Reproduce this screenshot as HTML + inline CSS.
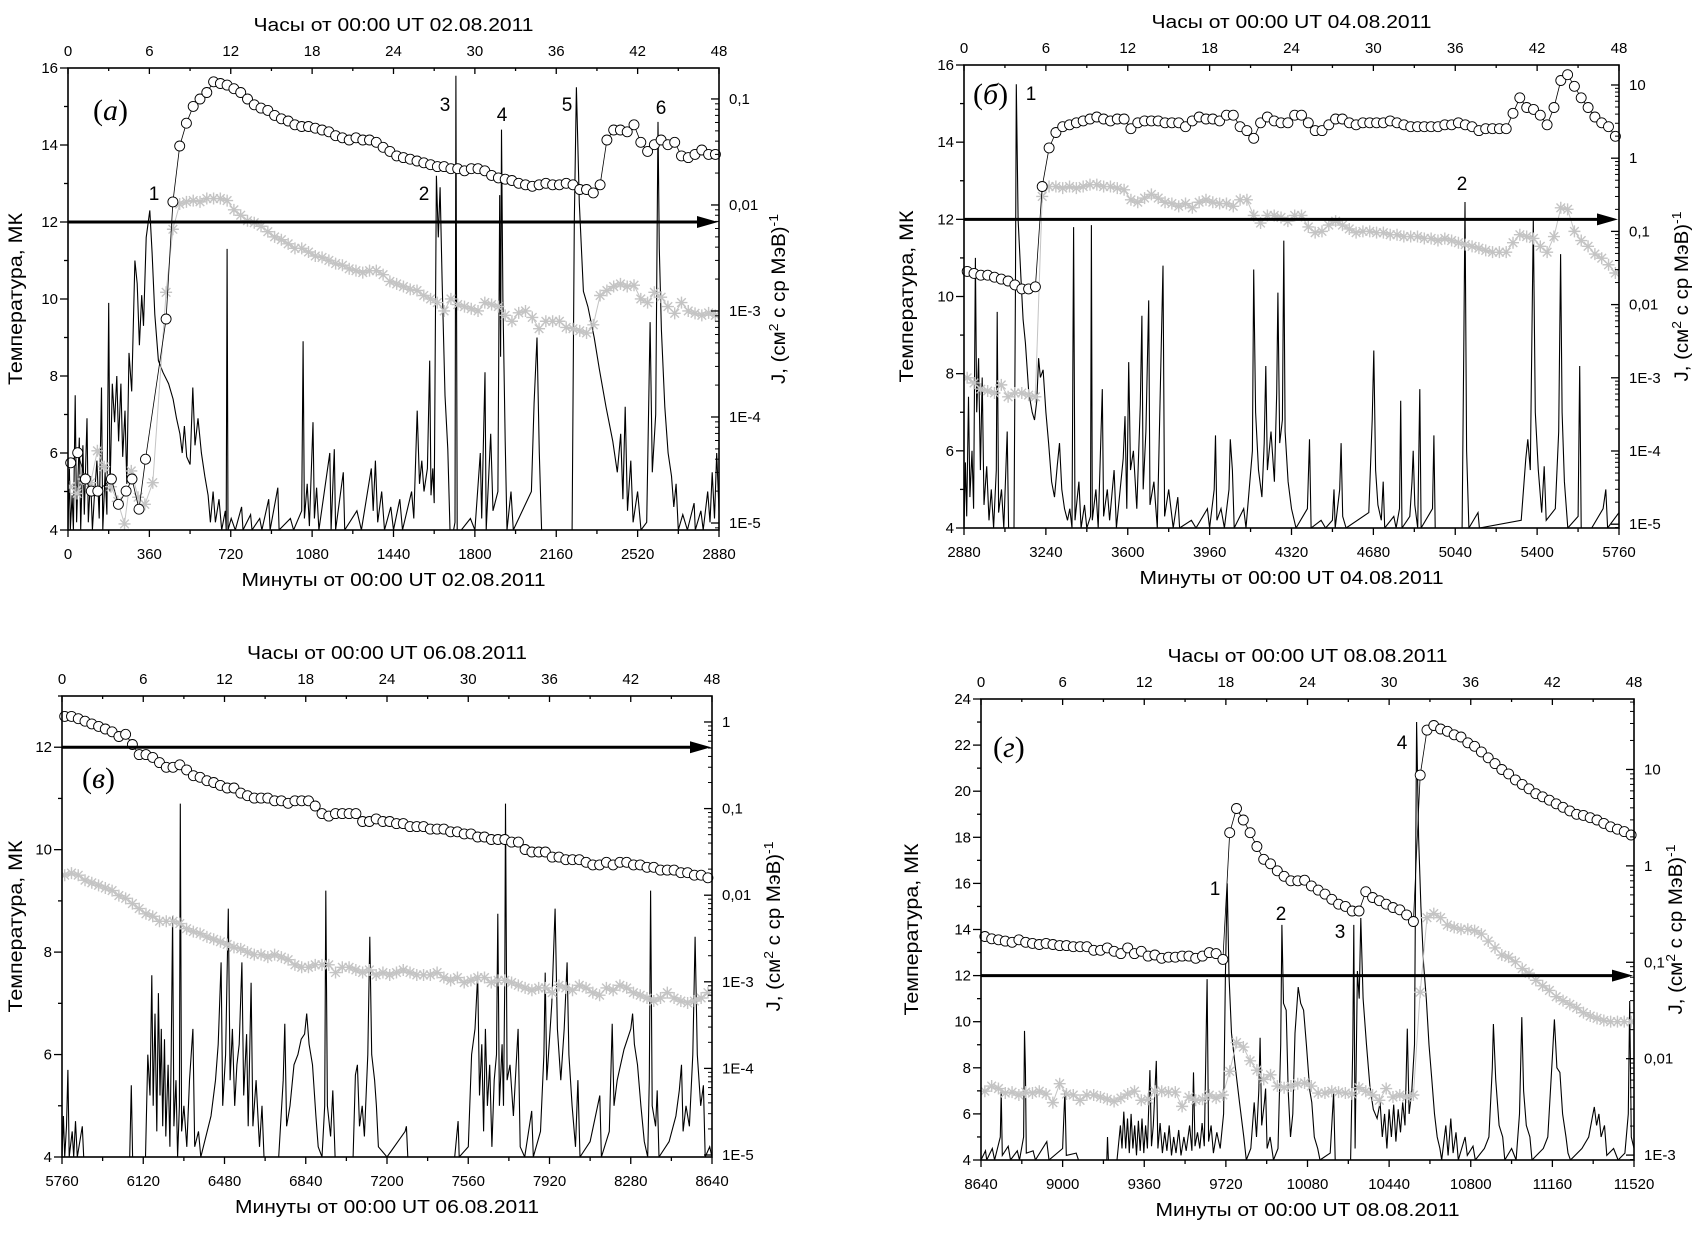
<!DOCTYPE html>
<html><head><meta charset="utf-8"><title>Temperature and flux panels</title>
<style>
html,body{margin:0;padding:0;background:#fff;}
svg text{font-family:"Liberation Sans",sans-serif;fill:#000;}
</style></head>
<body>
<svg id="fig" xmlns="http://www.w3.org/2000/svg" width="1702" height="1229" viewBox="0 0 1702 1229"></svg>
<script>
// ---------- DATA (minutes, MK, flux) ----------
const aEarlyCircT=[12,43,77,103,132,192,223,257,283,314,343];
const aEarlyCircJ=[3.7e-5,4.6e-5,2.6e-5,2.0e-5,2.0e-5,2.6e-5,1.5e-5,2.0e-5,2.6e-5,1.35e-5,4e-5];
const aEarlyStarT=[10,40,70,100,130,160,190,220,250,280,310,340,375];
const aEarlyStarJ=[2.2e-5,1.9e-5,2.6e-5,2.4e-5,4.8e-5,3.4e-5,2.2e-5,1.6e-5,9.8e-6,3.1e-5,1.75e-5,1.5e-5,2.4e-5];
const aStart=434, bStart=2894, cStart=5772, dStart=8657;
const aCirc=[8.4e-4,0.0107,0.036,0.059,0.085,0.10,0.115,0.145,0.14,0.135,
0.125,0.115,0.10,0.088,0.082,0.078,0.07,0.065,0.062,0.057,
0.055,0.055,0.053,0.051,0.049,0.045,0.043,0.041,0.043,0.041,0.041,0.039,
0.035,0.032,0.029,0.028,0.027,0.026,0.025,0.024,0.023,0.023,0.022,0.022,0.021,0.022,0.022,0.021,
0.019,0.018,0.0175,0.017,0.016,0.0155,0.015,0.0155,0.016,0.0155,0.0155,0.016,0.0155,0.014,0.014,0.013,
0.0155,0.041,0.051,0.051,0.049,0.057,0.039,0.032,0.037,0.041,0.037,0.039,0.029,0.028,0.03,0.033,0.03,0.03];
const aStar=[0.0015,0.0059,0.0102,0.0107,0.011,0.0107,0.0115,0.0115,0.0115,0.011,
0.009,0.008,0.0071,0.0068,0.0063,0.0056,0.005,0.0047,0.0043,0.0039,
0.0039,0.0036,0.0033,0.0032,0.003,0.0028,0.0027,0.0025,0.0024,0.0023,0.0024,0.0024,
0.0022,0.0019,0.0018,0.0017,0.0016,0.00156,0.0014,0.0013,0.0012,0.001,0.0013,0.00115,0.0011,0.00105,0.001,0.0012,
0.00115,0.0011,0.00091,0.0008,0.00096,0.001,0.00087,0.00068,0.0008,0.0008,0.0008,0.0007,0.00068,0.00065,0.00062,0.00074,
0.0014,0.00156,0.0017,0.0018,0.0017,0.00175,0.0013,0.0012,0.0015,0.00135,0.0011,0.00095,0.0012,0.001,0.00095,0.00091,0.00096,0.00091];
const bCirc=[0.0284,0.0267,0.0252,0.0252,0.0237,0.0223,0.021,0.0186,0.0164,0.0164,0.0175,
0.41,1.38,2.24,2.69,2.86,3.04,3.23,3.43,3.65,3.43,3.23,3.43,3.43,2.53,3.04,3.23,3.23,3.23,3.04,3.04,3.04,2.69,3.23,3.65,3.43,3.43,3.23,3.87,3.87,2.69,2.38,1.87,
3.04,3.65,3.23,3.04,3.04,3.87,3.87,3.04,2.38,2.38,2.86,3.43,3.43,3.04,2.86,3.04,3.04,3.04,3.04,3.23,3.04,2.86,2.69,2.69,2.69,2.69,2.69,2.86,2.86,3.04,2.86,2.69,
2.38,2.53,2.53,2.53,2.53,4.11,6.68,4.93,4.64,3.87,2.86,4.93,11.5,13.8,9.6,6.68,4.93,3.65,3.04,2.69,1.99];
const bStar=[0.001,8.5e-4,7e-4,6.6e-4,6.2e-4,8e-4,5.5e-4,6.2e-4,6.2e-4,5.8e-4,5.5e-4,
0.30,0.41,0.41,0.39,0.41,0.39,0.41,0.435,0.435,0.41,0.41,0.39,0.37,
0.27,0.25,0.285,0.32,0.285,0.25,0.24,0.22,0.24,0.21,0.25,0.27,0.25,0.24,0.24,0.22,0.27,0.27,
0.165,0.13,0.165,0.165,0.155,0.138,0.165,0.165,0.115,0.096,0.10,0.122,0.138,0.122,0.108,
0.096,0.10,0.10,0.096,0.096,0.09,0.09,0.085,0.085,0.085,0.08,0.08,0.075,0.08,0.075,0.07,0.066,0.0625,0.059,0.055,
0.052,0.052,0.052,0.07,0.09,0.085,0.08,0.0625,0.052,0.085,0.21,0.2,0.10,0.075,0.0625,0.049,0.043,0.035,0.027];
const cCirc=[1.16,1.16,1.09,1.02,0.95,0.89,0.83,0.77,0.68,0.72,
0.55,0.42,0.42,0.39,0.34,0.30,0.30,0.32,0.28,0.24,
0.23,0.21,0.20,0.185,0.173,0.173,0.151,0.141,0.132,0.132,
0.132,0.123,0.123,0.115,0.123,0.123,0.123,0.107,0.0875,0.082,
0.0875,0.0875,0.0875,0.0875,0.071,0.071,0.076,0.071,0.071,0.067,
0.067,0.062,0.062,0.062,0.058,0.058,0.058,0.054,0.054,0.051,
0.051,0.047,0.047,0.044,0.044,0.044,0.041,0.041,0.0337,0.0315,
0.0315,0.0315,0.0275,0.0275,0.0257,0.0257,0.0257,0.024,0.0224,0.0224,
0.024,0.0224,0.024,0.024,0.0224,0.0224,0.021,0.021,0.0195,0.0195,
0.0195,0.0182,0.0182,0.017,0.017,0.0159];
const cStar=[0.017,0.018,0.017,0.0149,0.0139,0.013,0.0121,0.0113,0.0099,0.0092,
0.008,0.007,0.0061,0.0057,0.005,0.005,0.005,0.0047,0.0041,0.0038,
0.0036,0.0033,0.0031,0.0029,0.0027,0.0025,0.0024,0.0022,0.00206,0.00206,
0.00193,0.00206,0.00193,0.0018,0.00157,0.00147,0.00147,0.00157,0.00157,0.00157,
0.00128,0.00147,0.00147,0.00137,0.00128,0.00137,0.0012,0.00128,0.0012,0.00128,
0.00137,0.00128,0.0012,0.0012,0.0012,0.00128,0.00112,0.00104,0.00112,0.00098,
0.00104,0.00112,0.00112,0.00098,0.00104,0.00104,0.00098,0.00091,0.00085,0.0008,
0.00085,0.00085,0.00075,0.00091,0.00085,0.0008,0.00091,0.00085,0.00075,0.0007,
0.00085,0.0008,0.00091,0.00085,0.00075,0.0007,0.00065,0.0006,0.00065,0.00075,
0.00065,0.0006,0.00057,0.0006,0.00065,0.00075];
const dCirc=[0.185,0.175,0.171,0.166,0.161,0.171,0.161,0.157,0.153,0.157,
0.153,0.149,0.149,0.145,0.145,0.145,0.133,0.133,0.141,0.13,
0.123,0.141,0.123,0.13,0.116,0.119,0.11,0.113,0.113,0.116,
0.116,0.11,0.116,0.126,0.123,0.107,
2.21,3.94,2.99,2.21,1.59,1.17,1.05,0.89,0.78,0.70,
0.70,0.71,0.62,0.56,0.51,0.45,0.40,0.38,0.34,0.34,
0.54,0.47,0.435,0.40,0.37,0.35,0.31,0.265,
8.75,25.6,28.6,26.3,24.9,22.9,21.7,18.9,17.4,15.2,
13.2,11.5,10.0,9.0,7.8,7.0,6.3,5.6,5.2,4.8,
4.4,4.05,3.72,3.43,3.34,3.16,2.99,2.76,2.54,2.4,2.27,2.09];
const dStar=[0.0046,0.0052,0.0049,0.0044,0.0045,0.0042,0.0045,0.0044,0.0046,0.0043,
0.0035,0.0055,0.0043,0.0042,0.0037,0.0042,0.0042,0.004,0.0038,0.0036,
0.0039,0.0043,0.0046,0.0037,0.0038,0.0046,0.0046,0.0045,0.0045,0.0032,
0.004,0.0037,0.0038,0.0042,0.0039,0.0042,
0.0074,0.0147,0.0132,0.0095,0.0076,0.0061,0.0068,0.0052,0.005,0.0052,
0.0055,0.0056,0.0052,0.0044,0.0044,0.0046,0.0045,0.0044,0.0043,0.005,
0.0046,0.0042,0.0037,0.0049,0.004,0.0042,0.004,0.0042,
0.049,0.29,0.32,0.29,0.244,0.23,0.22,0.22,0.213,0.196,
0.166,0.141,0.119,0.113,0.101,0.086,0.077,0.065,0.057,0.051,
0.044,0.040,0.0366,0.0337,0.030,0.0277,0.0262,0.0249,0.0242,0.0242,0.0242,0.0242];
const goesA=[[0,4],[6,5.6],[10,4],[18,4.9],[24,4],[32,7.5],[38,4.2],[50,6.4],[56,4],[66,6.2],[72,4.4],[84,6.9],[90,4.2],[100,5.4],[108,4],[116,4.8],[128,5.8],[138,4.3],[148,7.7],[154,4],[164,5.5],[172,4.4],[180,9.9],[186,5],[196,7.8],[206,6.8],[216,8.0],[224,6.3],[234,7.8],[242,5.9],[252,7.1],[260,5.2],[270,8.6],[282,7.6],[296,11.0],[306,10.4],[316,8.8],[326,10.1],[334,9.3],[346,11.6],[362,12.3],[372,11.2],[384,9.6],[400,8.4],[420,8.1],[445,7.8],[465,7.4],[480,6.9],[495,6.5],[505,6.0],[515,6.7],[525,5.9],[540,5.7],[552,7.7],[562,6.2],[575,6.9],[590,6.0],[605,5.4],[620,4.9],[630,4.2],[642,5.0],[652,4.2],[668,4.8],[680,4],[696,4.5],[700,4],[704,11.3],[708,4],[722,4.3],[740,4],[768,4.6],[774,4],[808,4.4],[814,4],[848,4.3],[858,4],[888,4.8],[894,4],[928,5.1],[934,4],[984,4.3],[998,4],[1034,4.5],[1040,8.9],[1046,4.3],[1058,5.2],[1068,4.1],[1084,6.8],[1090,4.3],[1100,5.1],[1110,4],[1158,6.0],[1164,4],[1178,6.1],[1184,4],[1218,5.5],[1224,4],[1278,4.5],[1298,4],[1342,5.6],[1350,4.5],[1360,5.8],[1370,4.2],[1388,5],[1400,4],[1428,4.6],[1440,4],[1468,4.8],[1480,4],[1520,5.0],[1530,4.3],[1545,7.1],[1555,5.2],[1565,5.8],[1575,5],[1590,5.6],[1600,8.4],[1606,4.9],[1614,5.6],[1620,4.7],[1630,13.2],[1638,11.6],[1646,12.9],[1655,10.5],[1668,7.5],[1680,6.1],[1690,4],[1706,4],[1712,4.2],[1716,15.8],[1722,4],[1740,4],[1780,4.3],[1800,4],[1824,6.0],[1830,4.3],[1845,8.1],[1850,4],[1870,6.5],[1880,4.5],[1902,5],[1910,12.7],[1914,8.5],[1918,14.4],[1924,10],[1934,6.3],[1942,4],[1960,5],[1970,4],[2050,5],[2062,7.3],[2075,9.0],[2085,6],[2095,4],[2130,4],[2230,4],[2240,12],[2249,15.5],[2262,12.5],[2280,10.2],[2300,9.8],[2328,9.0],[2350,8.2],[2380,7.2],[2410,6.3],[2430,5.5],[2445,6.5],[2455,4.8],[2465,7.2],[2475,4.5],[2490,5.8],[2500,4.2],[2520,5],[2535,4],[2560,4.2],[2575,9.4],[2585,5.5],[2600,7],[2610,14.6],[2616,11.3],[2625,9.2],[2640,7.2],[2655,6],[2670,5.4],[2680,4.6],[2690,5.2],[2700,4],[2720,4.4],[2740,4],[2770,4.7],[2775,4],[2800,4.5],[2810,4],[2830,5],[2840,4.2],[2850,5.5],[2860,4.3],[2870,6],[2880,4.5]];
const goesB=[[2880,4],[2886,5.7],[2892,4.3],[2900,7.4],[2906,4.8],[2915,6.0],[2922,4.5],[2930,11.0],[2936,7.0],[2944,8.4],[2952,5.5],[2960,7.9],[2968,4.6],[2980,5.6],[2990,4.2],[3000,5.0],[3010,4],[3022,5.5],[3026,9.6],[3032,4.4],[3045,5],[3055,4],[3070,6.5],[3076,4],[3100,4],[3106,10],[3110,15.5],[3118,12],[3130,10.5],[3140,9.4],[3150,8.8],[3165,7.5],[3180,7.0],[3190,6.8],[3200,7.3],[3208,8.4],[3216,7.9],[3228,8.1],[3240,7.0],[3252,6.2],[3265,5.2],[3278,4.8],[3290,5.6],[3300,6.2],[3310,5.0],[3322,4.5],[3335,4.2],[3345,4.5],[3355,4],[3362,11.8],[3368,4.2],[3385,5.2],[3395,4],[3410,4.6],[3420,4],[3436,4.3],[3440,11.85],[3444,4.2],[3460,5],[3470,4],[3488,7.6],[3494,4.3],[3510,5],[3520,4.2],[3540,5.5],[3550,4],[3580,5.8],[3588,6.9],[3596,4.5],[3604,8.3],[3612,5.5],[3625,6.0],[3640,4.5],[3655,7.2],[3662,9.5],[3668,5.0],[3680,6.5],[3692,9.9],[3698,4.6],[3715,5.2],[3730,4],[3755,10.8],[3762,4.3],[3780,5],[3800,4],[3820,4.8],[3828,4],[3880,4.2],[3900,4],[3950,4.5],[3960,4],[3980,5.0],[3986,6.4],[3992,4.2],[4010,4.5],[4025,4],[4045,5],[4051,6.3],[4060,5.5],[4068,4],[4110,4.5],[4120,4],[4148,6.0],[4154,10.7],[4162,7.0],[4175,5.5],[4190,4.8],[4200,6.2],[4207,8.2],[4214,5.5],[4230,6.5],[4245,5.2],[4255,7.5],[4260,10.1],[4268,6.2],[4280,6.8],[4286,11.45],[4292,6.5],[4305,5.2],[4320,4.5],[4340,4],[4390,4.5],[4399,6.3],[4406,4],[4450,4.2],[4470,4],[4500,4.2],[4507,5.0],[4512,4],[4532,5],[4538,6.2],[4545,4.3],[4560,4],[4660,4.4],[4675,6.8],[4682,8.6],[4690,5.5],[4700,4.6],[4715,4.2],[4723,5.2],[4730,4],[4770,4.3],[4780,4],[4795,4.5],[4800,7.3],[4806,4],[4840,4.3],[4850,5.2],[4855,6.0],[4862,4.6],[4875,4],[4884,7.6],[4890,4],[4940,4.5],[4946,6.4],[4952,4],[5070,4],[5078,9],[5083,12.45],[5090,6],[5100,4],[5140,4.4],[5146,4],[5330,4.2],[5350,5.8],[5359,6.3],[5370,5.5],[5383,12.0],[5392,7.0],[5405,5.5],[5420,4.4],[5431,5.6],[5440,4.2],[5480,4.5],[5495,6.5],[5503,11.1],[5510,7.0],[5520,5.2],[5535,4],[5580,4.3],[5587,8.2],[5594,4],[5640,4],[5690,4.5],[5702,5.0],[5710,4],[5760,4.4]];
const goesC=[[5760,4],[5766,4.8],[5772,4],[5780,4.6],[5786,5.7],[5792,4],[5805,4.5],[5812,4],[5820,4.7],[5828,4],[5850,4.6],[5856,4],[5900,4],[6060,4],[6067,5.4],[6073,4],[6130,4],[6140,6.0],[6150,5.2],[6158,7.55],[6164,5],[6172,6.8],[6180,4.5],[6187,7.2],[6194,5.2],[6200,6.5],[6206,4.6],[6214,6.3],[6220,4.4],[6230,5.8],[6238,4.2],[6244,6.0],[6250,8.7],[6256,4.6],[6265,5.5],[6272,4],[6280,5],[6284,10.9],[6290,4.5],[6300,5.0],[6313,4.2],[6325,5.5],[6340,6.5],[6348,4.2],[6365,4.5],[6375,4],[6420,4.8],[6440,5.5],[6452,6.2],[6465,7.8],[6472,5],[6485,6],[6497,8.85],[6505,5.5],[6515,6.5],[6525,5.0],[6535,5.8],[6545,6.2],[6557,7.8],[6565,5.2],[6578,6.4],[6585,4.6],[6598,7.4],[6606,4.6],[6620,5.5],[6635,4.2],[6646,5.0],[6655,4],[6720,4],[6740,5.5],[6747,6.6],[6755,4.6],[6770,5],[6788,5.8],[6805,6.0],[6820,6.3],[6835,6.4],[6844,6.8],[6855,6.2],[6870,5.8],[6885,4.8],[6895,4.2],[6912,4],[6924,5],[6929,9.2],[6936,5],[6950,4.4],[6960,5.3],[6970,4],[7050,4],[7060,5.6],[7069,5.8],[7078,4.6],[7090,5.0],[7100,4.4],[7115,6],[7124,8.3],[7132,6.0],[7145,5.5],[7153,5.0],[7162,4.2],[7200,4],[7280,4.5],[7286,4.6],[7292,4],[7500,4],[7515,4.7],[7520,4],[7560,4.2],[7575,6.0],[7590,6.5],[7602,7.55],[7610,5.2],[7620,6.2],[7628,4.5],[7636,6.5],[7645,5],[7655,5.8],[7665,4.2],[7675,5.5],[7685,6.0],[7691,8.75],[7698,5.0],[7710,6.2],[7716,5.0],[7722,7.5],[7725,10.9],[7732,5.5],[7745,5.8],[7760,4.8],[7781,6.5],[7790,4.2],[7810,4],[7841,4.9],[7848,4],[7880,4.5],[7895,6.0],[7901,7.6],[7908,5.5],[7920,6.3],[7930,7.0],[7945,8.85],[7955,6.5],[7970,5.5],[7985,6.5],[7998,7.8],[8006,6],[8020,5.0],[8035,4.2],[8046,5.5],[8055,4],[8100,4.3],[8143,5.2],[8150,4],[8185,4.5],[8198,6.6],[8206,5],[8220,5.5],[8235,5.8],[8250,6.1],[8265,6.3],[8280,6.5],[8288,6.8],[8296,6.2],[8310,5.8],[8325,5.0],[8340,4.3],[8355,4],[8362,5.5],[8368,9.2],[8375,5],[8390,4.6],[8397,5.3],[8405,4],[8450,4.3],[8480,4.8],[8495,5.3],[8505,5.8],[8512,4.5],[8525,5.0],[8540,4.6],[8555,6.0],[8565,8.3],[8575,6],[8590,5],[8602,5.4],[8610,4],[8630,4.2],[8640,4]];
const goesD=[[8640,4],[8660,4.4],[8665,4],[8690,4.5],[8700,4],[8725,5],[8729,7.0],[8734,4.2],[8760,4.6],[8770,4],[8800,4.4],[8810,4],[8828,5],[8832,9.6],[8836,8.0],[8840,4.3],[8870,4.4],[8880,4],[8930,4.8],[8940,4],[9000,4.5],[9010,7.0],[9016,4.2],[9060,4.3],[9070,4],[9195,4],[9198,5.0],[9202,4],[9240,4],[9255,5.5],[9262,4.5],[9270,6.1],[9278,4.5],[9286,5.8],[9294,4.3],[9302,6.0],[9310,4.5],[9318,5.5],[9326,4.2],[9334,5.7],[9342,4.4],[9350,5.8],[9358,4.3],[9366,5.5],[9374,4.5],[9385,7.9],[9392,4.6],[9400,5.5],[9413,8.3],[9420,4.5],[9430,5.6],[9440,4.3],[9450,5.2],[9460,4.4],[9470,5.5],[9480,4.2],[9490,5.0],[9500,4.3],[9512,5.3],[9522,4.2],[9535,5.0],[9545,4.4],[9560,5.5],[9570,4.4],[9577,7.8],[9584,4.6],[9595,5.2],[9605,4.5],[9615,5.6],[9625,4.6],[9637,11.85],[9644,4.8],[9655,5.5],[9665,4.3],[9680,5.2],[9695,4.5],[9710,6.0],[9718,12],[9726,16.0],[9734,12],[9745,9.5],[9762,8],[9780,6.5],[9799,5],[9810,4],[9830,4.5],[9845,6.5],[9855,5],[9865,7],[9871,9.3],[9878,5.5],[9890,6.5],[9895,7.1],[9902,4.5],[9915,5],[9930,4],[9950,4.5],[9962,9],[9967,14.2],[9974,10.8],[9986,10.5],[9995,7],[10005,5],[10015,6],[10025,9.5],[10039,11.5],[10050,10.8],[10063,10.5],[10075,9],[10090,7],[10099,6.5],[10110,5],[10125,4.5],[10135,4],[10180,4.3],[10195,6.9],[10202,4],[10270,4],[10280,9],[10284,14.2],[10290,4.5],[10300,12.2],[10308,11],[10315,14.5],[10325,11],[10340,9],[10355,7.2],[10370,6.2],[10387,5.8],[10400,6.5],[10410,5.0],[10420,6.0],[10430,4.5],[10440,6.2],[10450,5.0],[10460,6.4],[10470,4.8],[10480,6.2],[10490,5.2],[10500,6.5],[10510,5.5],[10520,9.7],[10528,6.0],[10540,7.0],[10552,9],[10561,23],[10570,18],[10580,15],[10592,12.5],[10604,11],[10616,9],[10628,7.5],[10640,6],[10652,5],[10664,4.5],[10672,4],[10690,5.5],[10700,4.2],[10712,5.8],[10722,4.3],[10735,5.2],[10745,4],[10760,4.5],[10775,5.0],[10785,4.2],[10810,4.6],[10820,4],[10860,4.5],[10880,5.0],[10895,8],[10900,9.9],[10910,7.5],[10925,5.5],[10941,5],[10950,4],[10980,4.5],[11000,4],[11015,6],[11025,10.2],[11033,7],[11045,5.5],[11061,5],[11070,4],[11120,4.5],[11140,5],[11160,8.5],[11169,10.1],[11180,8],[11193,7.8],[11205,6],[11220,5],[11229,4.3],[11240,4],[11290,4.5],[11320,5.0],[11335,5.8],[11345,6.3],[11355,5.5],[11365,6.0],[11375,5.0],[11390,5.5],[11400,4.2],[11430,4.5],[11450,4],[11480,4.3],[11495,6],[11501,10.9],[11508,5],[11520,4.5]];
const decadeLabels={"-5":"1E-5","-4":"1E-4","-3":"1E-3","-2":"0,01","-1":"0,1","0":"1","1":"10"};
const hourTicks=[0,6,12,18,24,30,36,42,48];

// ---------- DRAWING ----------
const NS="http://www.w3.org/2000/svg";
const svg=document.getElementById("fig");
function el(tag,parent){const e=document.createElementNS(NS,tag);parent.appendChild(e);return e;}
function set(e,o){for(const k in o)e.setAttribute(k,o[k]);return e;}

function panel(p){
  const g=el("g",svg);
  
  
  const X=t=>p.x0+(t-p.tmin)/(p.tmax-p.tmin)*(p.x1-p.x0);
  const Y=T=>p.y1-(T-p.Tmin)/(p.Tmax-p.Tmin)*(p.y1-p.y0);
  const YJ=j=>p.y1-(Math.log10(j)-p.Lbot)/(p.Ltop-p.Lbot)*(p.y1-p.y0);
  const cp=el("clipPath",g);set(cp,{id:"clip"+p.key});
  const cr=el("rect",cp);set(cr,{x:p.x0,y:p.y0,width:p.x1-p.x0,height:p.y1-p.y0});
  const gl=el("polyline",g);
  
  
  set(gl,{points:p.goes.map(d=>X(d[0]).toFixed(1)+","+Y(d[1]).toFixed(1)).join(" "),fill:"none",stroke:"#000","stroke-width":1.1,"clip-path":"url(#clip"+p.key+")"});
  const sT=[],sJ=[];
  (p.earlyStarT||[]).forEach((t,i)=>{sT.push(t);sJ.push(p.earlyStarJ[i]);});
  p.star.forEach((j,i)=>{sT.push(p.start+30*i);sJ.push(j);});
  const sl=el("polyline",g);
  
  
  set(sl,{points:sT.map((t,i)=>X(t).toFixed(1)+","+YJ(sJ[i]).toFixed(1)).join(" "),fill:"none",stroke:"#c4c4c4","stroke-width":1,"clip-path":"url(#clip"+p.key+")"});
  const sg=el("g",g);set(sg,{stroke:"#c4c4c4","stroke-width":1.4,"clip-path":"url(#clip"+p.key+")"});
  sT.forEach((t,i)=>{
    const cx=X(t),cy=YJ(sJ[i]);
    const m=el("path",sg);
    
    
    m.setAttribute("d",`M${cx-6},${cy}H${cx+6}M${cx},${cy-6}V${cy+6}M${cx-4.3},${cy-4.3}L${cx+4.3},${cy+4.3}M${cx-4.3},${cy+4.3}L${cx+4.3},${cy-4.3}`);
  });
  const cT=[],cJ=[];
  (p.earlyCircT||[]).forEach((t,i)=>{cT.push(t);cJ.push(p.earlyCircJ[i]);});
  p.circ.forEach((j,i)=>{cT.push(p.start+30*i);cJ.push(j);});
  const cl=el("polyline",g);
  
  
  set(cl,{points:cT.map((t,i)=>X(t).toFixed(1)+","+YJ(cJ[i]).toFixed(1)).join(" "),fill:"none",stroke:"#000","stroke-width":0.8});
  cT.forEach((t,i)=>{
    const c=el("circle",g);
    
    
    set(c,{cx:X(t).toFixed(1),cy:YJ(cJ[i]).toFixed(1),r:5,fill:"#fff",stroke:"#000","stroke-width":0.9});
  });
  const fr=el("rect",g);
  
  
  set(fr,{x:p.x0,y:p.y0,width:p.x1-p.x0,height:p.y1-p.y0,fill:"none",stroke:"#000","stroke-width":1.6});
  const ay=Y(12);
  const al=el("line",g);
  
  
  set(al,{x1:p.x0,y1:ay,x2:p.x1-16,y2:ay,stroke:"#000","stroke-width":3});
  const ah=el("polygon",g);
  
  
  set(ah,{points:`${p.x1-1},${ay} ${p.x1-22},${ay-6} ${p.x1-22},${ay+6}`,fill:"#000"});
  const tk=el("g",g);set(tk,{stroke:"#000","stroke-width":1.3});
  for(let T=p.Tmin;T<=p.Tmax;T++){
    const y=Y(T),maj=(T%2===0);
    const l=el("line",tk);set(l,{x1:p.x0-(maj?8:4),x2:p.x0,y1:y,y2:y});
    if(maj){
      const tx=el("text",g);
      
      
      set(tx,{x:p.x0-10,y:y+5,"text-anchor":"end","font-size":15});tx.textContent=T;
    }
  }
  for(let L=Math.ceil(p.Lbot);L<=Math.floor(p.Ltop);L++){
    const y=p.y1-(L-p.Lbot)/(p.Ltop-p.Lbot)*(p.y1-p.y0);
    const l=el("line",tk);set(l,{x1:p.x1-8,x2:p.x1,y1:y,y2:y});
    const tx=el("text",g);
    
    
    set(tx,{x:p.x1+10,y:y+5,"font-size":15});tx.textContent=decadeLabels[String(L)];
  }
  for(let L=Math.floor(p.Lbot);L<=p.Ltop;L++){
    for(let m=2;m<=9;m++){
      const v=L+Math.log10(m);if(v<p.Lbot||v>p.Ltop)continue;
      const y=p.y1-(v-p.Lbot)/(p.Ltop-p.Lbot)*(p.y1-p.y0);
      const l=el("line",tk);set(l,{x1:p.x1-4,x2:p.x1,y1:y,y2:y,"stroke-width":1});
    }
  }
  for(let t=p.tmin;t<=p.tmax;t+=180){
    const x=X(t),maj=((t-p.tmin)%360===0);
    const l=el("line",tk);set(l,{x1:x,x2:x,y1:p.y1,y2:p.y1+(maj?7:4)});
    if(maj){
      const tx=el("text",g);
      
      
      set(tx,{x:x,y:p.y1+29,"text-anchor":"middle","font-size":15});tx.textContent=t;
    }
  }
  for(let h=0;h<=48;h+=3){
    const x=p.x0+h/48*(p.x1-p.x0),maj=(h%6===0);
    const l=el("line",tk);set(l,{x1:x,x2:x,y1:p.y0,y2:p.y0+(maj?6:3)});
  }
  hourTicks.forEach(h=>{
    const tx=el("text",g);
    
    
    set(tx,{x:p.x0+h/48*(p.x1-p.x0),y:p.y0-12,"text-anchor":"middle","font-size":15});tx.textContent=h;
  });
  const cx=(p.x0+p.x1)/2;
  const tt=el("text",g);
  
  
  set(tt,{x:cx,y:p.y0-37,"text-anchor":"middle","font-size":18,textLength:280,lengthAdjust:"spacingAndGlyphs"});
  tt.textContent="Часы от 00:00 UT "+p.date;
  const bt=el("text",g);
  
  
  set(bt,{x:cx,y:p.y1+56,"text-anchor":"middle","font-size":18,textLength:304,lengthAdjust:"spacingAndGlyphs"});
  bt.textContent="Минуты от 00:00 UT "+p.date;
  const cy=(p.y0+p.y1)/2;
  const lt=el("text",g);
  
  
  set(lt,{x:0,y:0,"text-anchor":"middle","font-size":19,textLength:172,lengthAdjust:"spacingAndGlyphs",transform:`translate(${p.ltx},${cy}) rotate(-90)`});
  lt.textContent="Температура, МК";
  const rt=el("text",g);
  
  
  set(rt,{x:0,y:0,"text-anchor":"middle",style:"font-size:19px",textLength:170,lengthAdjust:"spacingAndGlyphs",transform:`translate(${p.rtx},${cy}) rotate(-90)`});
  rt.innerHTML='J, (см<tspan dy="-7" style="font-size:13px">2</tspan><tspan dy="7"> с ср МэВ)</tspan><tspan dy="-7" style="font-size:13px">-1</tspan>';
  const pl=el("text",g);
  
  
  set(pl,{x:p.lab[0],y:p.lab[1],style:"font-size:30px;font-family:'Liberation Serif',serif"});
  pl.innerHTML='(<tspan style="font-style:italic">'+p.letter+'</tspan>)';
  p.ann.forEach(a=>{
    const at=el("text",g);
    
    
    set(at,{x:a[1],y:a[2],"text-anchor":"middle","font-size":19});at.textContent=a[0];
  });
}

panel({key:"a",letter:"а",date:"02.08.2011",x0:68,x1:719,y0:68,y1:530,tmin:0,tmax:2880,Tmin:4,Tmax:16,Lbot:-5.066,Ltop:-0.708,
  goes:goesA,start:aStart,circ:aCirc,star:aStar,earlyCircT:aEarlyCircT,earlyCircJ:aEarlyCircJ,earlyStarT:aEarlyStarT,earlyStarJ:aEarlyStarJ,
  ltx:22,rtx:785,lab:[93,120],ann:[["1",154,200],["2",424,200],["3",445,111],["4",502,121],["5",567,111],["6",661,114]]});
panel({key:"b",letter:"б",date:"04.08.2011",x0:964,x1:1619,y0:65,y1:528,tmin:2880,tmax:5760,Tmin:4,Tmax:16,Lbot:-5.052,Ltop:1.273,
  goes:goesB,start:bStart,circ:bCirc,star:bStar,
  ltx:913,rtx:1688,lab:[973,104],ann:[["1",1031,100],["2",1462,190]]});
panel({key:"c",letter:"в",date:"06.08.2011",x0:62,x1:712,y0:696,y1:1157,tmin:5760,tmax:8640,Tmin:4,Tmax:13,Lbot:-5.023,Ltop:0.30,
  goes:goesC,start:cStart,circ:cCirc,star:cStar,
  ltx:22,rtx:780,lab:[82,788],ann:[]});
panel({key:"d",letter:"г",date:"08.08.2011",x0:981,x1:1634,y0:699,y1:1160,tmin:8640,tmax:11520,Tmin:4,Tmax:24,Lbot:-3.051,Ltop:1.731,
  goes:goesD,start:dStart,circ:dCirc,star:dStar,
  ltx:918,rtx:1682,lab:[993,757],ann:[["1",1215,895],["2",1281,920],["3",1340,938],["4",1402,749]]});
</script>
</body></html>
